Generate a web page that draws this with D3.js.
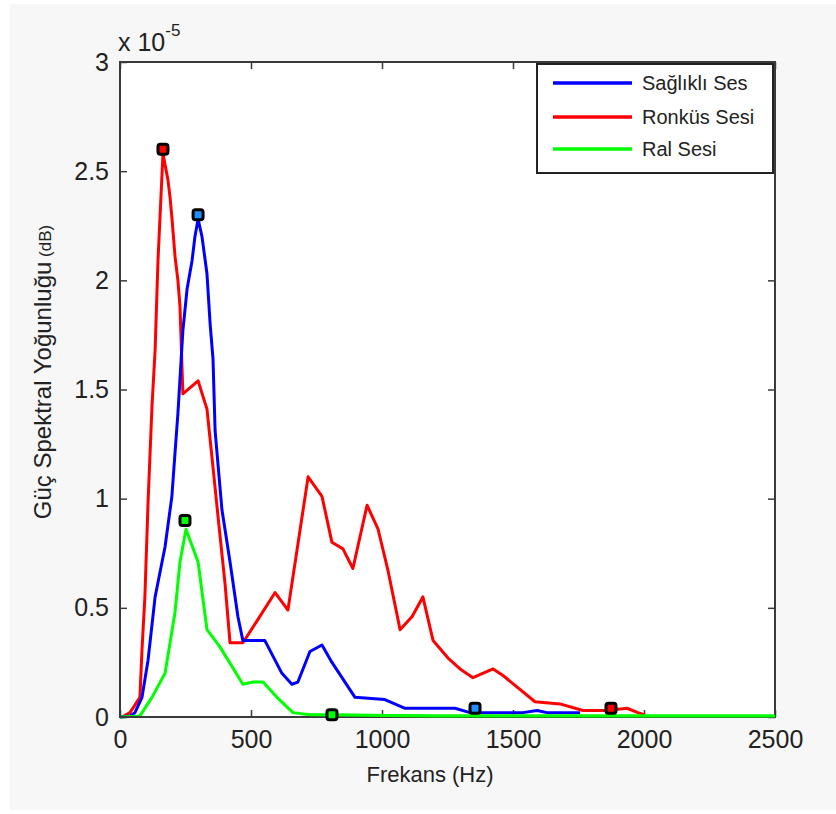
<!DOCTYPE html>
<html>
<head>
<meta charset="utf-8">
<script src="https://cdn.jsdelivr.net/npm/d3@7"></script>
<style>
  html, body { margin: 0; padding: 0; background: #ffffff; }
  svg { display: block; font-family: Arial, "Liberation Sans", sans-serif; }
</style>
</head>
<body>
<svg id="chart" width="836" height="814"></svg>
<script>
// Power spectral density (x 10^-5) against frequency (Hz)
const xTicks = [0, 500, 1000, 1500, 2000, 2500];
const yTicks = [0, 0.5, 1, 1.5, 2, 2.5, 3];
const seriesNames = ["Sağlıklı Ses", "Ronküs Sesi", "Ral Sesi"];
const seriesColors = ["#0000ff", "#ff0000", "#00ff00"];

// Sağlıklı Ses (healthy)
const blueF = [0, 38, 57, 84, 107, 134, 172, 198, 210, 221, 240, 256, 275, 286, 298, 313, 332, 344, 355, 363, 389, 420, 450, 469, 553, 618, 656, 679, 725, 771, 809, 897, 1011, 1088, 1279, 1336, 1496, 1538, 1592, 1630, 1756];
const blueV = [0, 0.005, 0.02, 0.09, 0.26, 0.55, 0.78, 1.01, 1.21, 1.39, 1.77, 1.96, 2.09, 2.20, 2.28, 2.20, 2.03, 1.80, 1.64, 1.31, 0.95, 0.71, 0.46, 0.35, 0.35, 0.20, 0.15, 0.16, 0.30, 0.33, 0.25, 0.09, 0.08, 0.04, 0.04, 0.02, 0.02, 0.02, 0.03, 0.02, 0.02];

// Ronküs Sesi (rhonchus)
const redF = [8, 38, 76, 84, 95, 107, 122, 134, 145, 164, 183, 191, 198, 210, 221, 229, 240, 298, 332, 351, 374, 401, 420, 469, 523, 592, 641, 718, 771, 809, 851, 889, 943, 985, 1023, 1069, 1115, 1156, 1195, 1252, 1298, 1347, 1424, 1462, 1584, 1679, 1767, 1859, 1935, 1977, 2004];
const redV = [0, 0.02, 0.09, 0.31, 0.55, 0.98, 1.42, 1.68, 2.09, 2.58, 2.46, 2.38, 2.29, 2.11, 2.00, 1.88, 1.48, 1.54, 1.41, 1.19, 0.92, 0.61, 0.34, 0.34, 0.44, 0.57, 0.49, 1.10, 1.01, 0.80, 0.77, 0.68, 0.97, 0.86, 0.67, 0.40, 0.46, 0.55, 0.35, 0.27, 0.22, 0.18, 0.22, 0.19, 0.07, 0.06, 0.03, 0.03, 0.04, 0.02, 0.01];

// Ral Sesi (crackle)
const greenF = [0, 76, 122, 172, 210, 229, 252, 298, 332, 382, 469, 508, 546, 599, 660, 725, 1200, 2500];
const greenV = [0, 0.005, 0.09, 0.20, 0.48, 0.71, 0.86, 0.71, 0.40, 0.32, 0.15, 0.16, 0.16, 0.09, 0.02, 0.01, 0.005, 0.005];

// Marked peaks: blue, red, green main peaks, then secondary points
const peakF = [298, 164, 248, 1355, 1874, 809];
const peakV = [2.30, 2.60, 0.90, 0.04, 0.04, 0.01];
const peakFill = ["#1e90ff", "#ff0000", "#00ff00", "#1e90ff", "#ff0000", "#00ff00"];

const svg = d3.select("#chart");
const W = 836;
const m = { left: 120, top: 62, width: 655, height: 655 };

// figure background
svg.append("rect").attr("x", 10).attr("y", 4).attr("width", W - 10).attr("height", 806)
  .attr("fill", "#f7f7f7");

const x = d3.scaleLinear().domain([0, 2500]).range([m.left, m.left + m.width]);
const y = d3.scaleLinear().domain([0, 3]).range([m.top + m.height, m.top]);

// plot area
svg.append("rect").attr("x", m.left).attr("y", m.top)
  .attr("width", m.width).attr("height", m.height).attr("fill", "#ffffff");

const axisColor = "#3a3a3a";
const textColor = "#222";
const tickFont = 25;

// axes with inward ticks on all four sides
const gB = svg.append("g").attr("transform", `translate(0,${m.top + m.height})`)
  .call(d3.axisBottom(x).tickValues(xTicks).tickSize(-7).tickPadding(17).tickFormat(d3.format("d")));
const gT = svg.append("g").attr("transform", `translate(0,${m.top})`)
  .call(d3.axisTop(x).tickValues(xTicks).tickSize(-7).tickFormat(""));
const gL = svg.append("g").attr("transform", `translate(${m.left},0)`)
  .call(d3.axisLeft(y).tickValues(yTicks).tickSize(-7).tickPadding(11).tickFormat(d3.format("")));
const gR = svg.append("g").attr("transform", `translate(${m.left + m.width},0)`)
  .call(d3.axisRight(y).tickValues(yTicks).tickSize(-7).tickFormat(""));

[gB, gT, gL, gR].forEach(g => {
  g.select(".domain").remove();
  g.selectAll(".tick line").attr("stroke", axisColor).attr("stroke-width", 1.5);
  g.selectAll(".tick text").attr("fill", textColor).attr("font-size", tickFont)
    .attr("font-family", "Arial, 'Liberation Sans', sans-serif");
});
gB.selectAll(".tick text").attr("dy", "0.55em");

// series lines
const line = d3.line().x(d => x(d[0])).y(d => y(d[1]));
const series = [
  { f: blueF, v: blueV, color: seriesColors[0] },
  { f: redF, v: redV, color: seriesColors[1] },
  { f: greenF, v: greenV, color: seriesColors[2] }
];
// red first, then blue, then green on top at the baseline
[series[1], series[0], series[2]].forEach(s => {
  svg.append("path")
    .datum(s.f.map((f, i) => [f, s.v[i]]))
    .attr("fill", "none").attr("stroke", s.color)
    .attr("stroke-width", 3).attr("stroke-linejoin", "round")
    .attr("d", line);
});

// box around the plot
svg.append("rect").attr("x", m.left).attr("y", m.top)
  .attr("width", m.width).attr("height", m.height)
  .attr("fill", "none").attr("stroke", axisColor).attr("stroke-width", 2);

// green baseline segment drawn over the bottom frame
svg.append("path")
  .datum(greenF.map((f, i) => [f, greenV[i]]).filter(d => d[0] >= 725))
  .attr("fill", "none").attr("stroke", seriesColors[2]).attr("stroke-width", 3)
  .attr("d", line);

// peak markers
svg.selectAll("rect.peak").data(peakF.map((f, i) => ({ f, v: peakV[i], c: peakFill[i] })))
  .join("rect").attr("class", "peak")
  .attr("x", d => x(d.f) - 5).attr("y", d => y(d.v) - 5)
  .attr("width", 10).attr("height", 10).attr("rx", 2.5)
  .attr("fill", d => d.c).attr("stroke", "#000").attr("stroke-width", 3);

// exponent label
const expo = svg.append("text").attr("x", m.left - 2).attr("y", 51)
  .attr("font-size", 25).attr("fill", textColor);
expo.append("tspan").text("x 10");
expo.append("tspan").attr("dy", -15).attr("font-size", 17).text("-5");

// axis titles
svg.append("text").attr("x", 430).attr("y", 782).attr("text-anchor", "middle")
  .attr("font-size", 22).attr("fill", textColor).text("Frekans (Hz)");

const yl = svg.append("text").attr("transform", "translate(51,372) rotate(-90)")
  .attr("text-anchor", "middle").attr("fill", textColor).attr("font-size", 24);
yl.append("tspan").text("Güç Spektral Yoğunluğu");
yl.append("tspan").attr("font-size", 17).text(" (dB)");

// legend
const lg = svg.append("g");
lg.append("rect").attr("x", 537).attr("y", 64).attr("width", 236).attr("height", 109)
  .attr("fill", "#ffffff").attr("stroke", "#222").attr("stroke-width", 2);
const legendY = [83, 117, 149];
seriesNames.forEach((name, i) => {
  lg.append("line").attr("x1", 553).attr("x2", 632)
    .attr("y1", legendY[i]).attr("y2", legendY[i])
    .attr("stroke", seriesColors[i]).attr("stroke-width", 3.5);
  lg.append("text").attr("x", 642).attr("y", legendY[i]).attr("dy", "0.36em")
    .attr("font-size", 20).attr("fill", textColor).text(name);
});
</script>
</body>
</html>
